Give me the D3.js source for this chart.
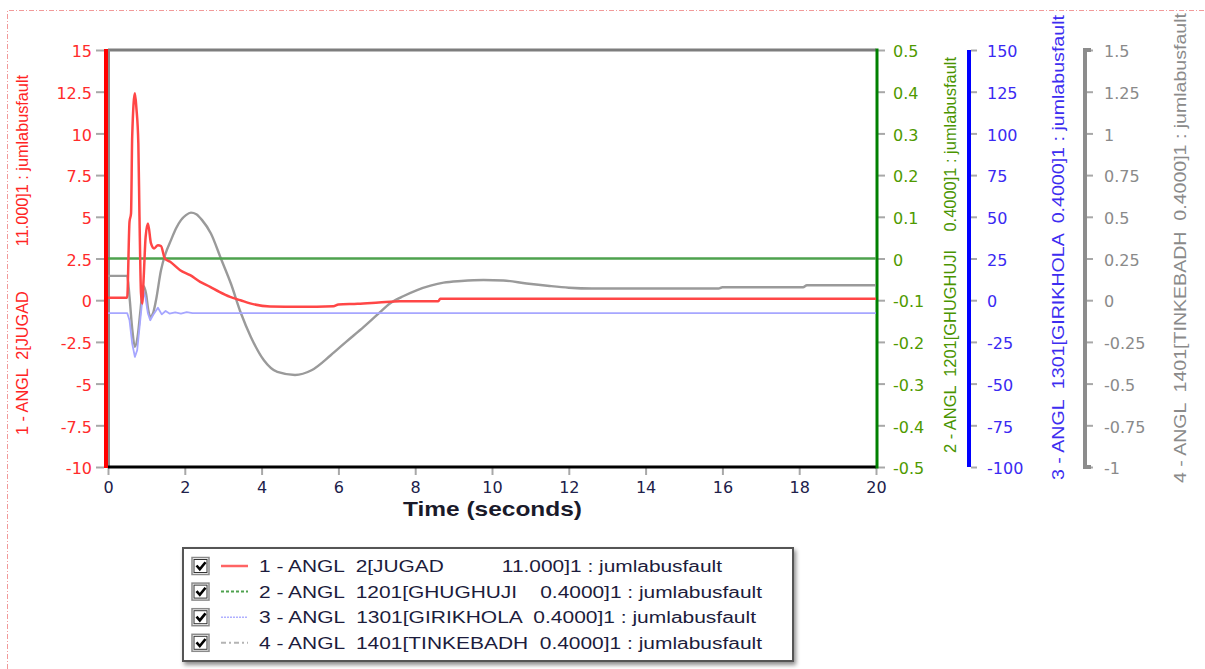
<!DOCTYPE html>
<html>
<head>
<meta charset="utf-8">
<script src="https://cdn.jsdelivr.net/npm/d3@7"></script>
<style>
  html, body { margin: 0; padding: 0; background: #fff; }
  svg { display: block; }
  text { white-space: pre; }
</style>
</head>
<body>
<script>
// ---- Rotor angle traces (time in seconds) ----
const jugadTime  = [0, 0.5, 0.56, 0.6, 0.63, 0.7, 0.74, 0.79, 0.82, 0.86, 0.89, 0.93, 0.98, 1.04, 1.12, 1.2, 1.3, 1.38, 1.48, 1.62, 1.88, 2.14, 2.4, 2.66, 2.9, 3.18, 3.45, 3.7, 4.22, 5.0, 5.87, 6.0, 6.5, 7.05, 7.6, 8.6, 8.65, 20];
const jugadAngle = [0.15, 0.15, 4.7, 5.2, 9.8, 12.4, 11.5, 9.4, 5.0, 0.4, -0.2, 1.4, 3.8, 4.6, 3.4, 3.1, 3.3, 3.25, 2.5, 2.3, 1.8, 1.5, 1.1, 0.8, 0.5, 0.2, 0.0, -0.19, -0.38, -0.4, -0.36, -0.26, -0.22, -0.14, -0.06, -0.06, 0.08, 0.08];

const ghughujiTime  = [0, 5, 10, 15, 20];
const ghughujiAngle = [0, 0, 0, 0, 0];

const girikholaTime  = [0, 0.5, 0.56, 0.63, 0.7, 0.76, 0.84, 0.92, 0.98, 1.04, 1.1, 1.17, 1.3, 1.4, 1.5, 1.6, 1.75, 1.9, 2.05, 2.2, 20];
const girikholaAngle = [-7.7, -7.7, -12, -26, -34, -30, -12, 6, 1, -8, -12, -9, -4.5, -8.5, -6.5, -8, -7.3, -8, -7.2, -7.7, -7.7];

const tinkebadhTime  = [0, 0.5, 0.56, 0.63, 0.7, 0.77, 0.85, 0.92, 0.99, 1.05, 1.1, 1.17, 1.25, 1.38, 1.5, 1.64, 1.77, 1.9, 2.03, 2.16, 2.3, 2.45, 2.68, 2.94, 3.2, 3.46, 3.72, 4.06, 4.41, 4.87, 5.3, 5.8, 6.2, 6.66, 7.0, 7.36, 7.7, 8.05, 8.4, 8.74, 9.2, 9.78, 10.3, 10.9, 11.5, 12.0, 12.6, 15.9, 16.0, 18.1, 18.2, 20];
const tinkebadhAngle = [0.146, 0.146, 0.02, -0.17, -0.28, -0.22, -0.05, 0.085, 0.04, -0.06, -0.10, -0.08, 0.0, 0.18, 0.28, 0.36, 0.43, 0.48, 0.51, 0.525, 0.515, 0.48, 0.40, 0.25, 0.10, -0.077, -0.22, -0.36, -0.43, -0.448, -0.42, -0.33, -0.25, -0.16, -0.09, -0.017, 0.025, 0.061, 0.087, 0.105, 0.115, 0.121, 0.118, 0.10, 0.085, 0.075, 0.07, 0.07, 0.078, 0.078, 0.09, 0.09];

// ---- Series labels (legend rows and axis titles) ----
const seriesLabels = [
  "1 - ANGL  2[JUGAD          11.000]1 : jumlabusfault",
  "2 - ANGL  1201[GHUGHUJI    0.4000]1 : jumlabusfault",
  "3 - ANGL  1301[GIRIKHOLA  0.4000]1 : jumlabusfault",
  "4 - ANGL  1401[TINKEBADH  0.4000]1 : jumlabusfault"
];

// ---- Tick values ----
const timeTicks      = [0, 2, 4, 6, 8, 10, 12, 14, 16, 18, 20];
const jugadTicks     = [-10, -7.5, -5, -2.5, 0, 2.5, 5, 7.5, 10, 12.5, 15];
const ghughujiTicks  = [-0.5, -0.4, -0.3, -0.2, -0.1, 0, 0.1, 0.2, 0.3, 0.4, 0.5];
const girikholaTicks = [-100, -75, -50, -25, 0, 25, 50, 75, 100, 125, 150];
const tinkebadhTicks = [-1, -0.75, -0.5, -0.25, 0, 0.25, 0.5, 0.75, 1, 1.25, 1.5];

// ---- Layout ----
const W = 1205, H = 669;
const plot = { left: 108, right: 876, top: 50, bottom: 467 };

const svg = d3.select("body").append("svg")
  .attr("width", W).attr("height", H)
  .attr("viewBox", `0 0 ${W} ${H}`);

svg.append("rect").attr("width", W).attr("height", H).attr("fill", "#fff");

// dash-dot page frame
svg.append("path")
  .attr("d", `M7.5,${H} V10.5 H${W}`)
  .attr("fill", "none").attr("stroke", "#f29a9a").attr("stroke-width", 1)
  .attr("stroke-dasharray", "5,2,1,2");

const x = d3.scaleLinear().domain([0, 20]).range([plot.left, plot.right]);
const yJugad     = d3.scaleLinear().domain([-10, 15]).range([plot.bottom, plot.top]);
const yGhughuji  = d3.scaleLinear().domain([-0.5, 0.5]).range([plot.bottom, plot.top]);
const yGirikhola = d3.scaleLinear().domain([-100, 150]).range([plot.bottom, plot.top]);
const yTinkebadh = d3.scaleLinear().domain([-1, 1.5]).range([plot.bottom, plot.top]);

const fmt = d => String(d);
const tickFont = "'DejaVu Sans', Verdana, sans-serif";

function styleAxis(g, color, tickColor) {
  g.selectAll(".tick line").attr("stroke", tickColor).attr("stroke-width", 2);
  g.selectAll(".tick text")
    .attr("fill", color)
    .attr("font-family", tickFont)
    .attr("font-size", 16)
    .attr("dy", "0.42em");
}

// ---- plot frame ----
svg.append("line").attr("x1", plot.left).attr("x2", plot.right)
  .attr("y1", plot.top).attr("y2", plot.top)
  .attr("stroke", "#7d7d7d").attr("stroke-width", 3);
svg.append("line").attr("x1", plot.left + 1).attr("x2", plot.left + 1)
  .attr("y1", plot.top).attr("y2", plot.bottom)
  .attr("stroke", "#8a8a8a").attr("stroke-width", 2);

// ---- x axis ----
const gx = svg.append("g")
  .attr("transform", `translate(0,${plot.bottom})`)
  .call(d3.axisBottom(x).tickValues(timeTicks).tickFormat(fmt).tickSize(8).tickSizeOuter(0).tickPadding(7));
gx.select(".domain").remove();
gx.selectAll(".tick line").attr("stroke", "#a8a8a8").attr("stroke-width", 2);
gx.selectAll(".tick text").attr("fill", "#20204a").attr("font-family", tickFont).attr("font-size", 16);
svg.append("line").attr("x1", plot.left).attr("x2", plot.right)
  .attr("y1", plot.bottom).attr("y2", plot.bottom)
  .attr("stroke", "#000").attr("stroke-width", 3);

svg.append("text")
  .attr("x", (plot.left + plot.right) / 2 + 0.5).attr("y", 516)
  .attr("text-anchor", "middle")
  .attr("font-family", "'Liberation Sans', Arial, sans-serif")
  .attr("font-weight", "bold").attr("font-size", 21)
  .attr("textLength", 179).attr("lengthAdjust", "spacingAndGlyphs")
  .attr("fill", "#1a1a2a")
  .text("Time (seconds)");

// ---- red axis (left) ----
const gRed = svg.append("g").attr("transform", `translate(104,0)`)
  .call(d3.axisLeft(yJugad).tickValues(jugadTicks).tickFormat(fmt).tickSize(8).tickSizeOuter(0).tickPadding(4));
gRed.select(".domain").remove();
styleAxis(gRed, "#ff2b2b", "#a8a8a8");
svg.append("rect").attr("x", 104).attr("y", plot.top - 1).attr("width", 4)
  .attr("height", plot.bottom - plot.top + 2).attr("fill", "#ff0000");

// ---- green axis (right edge of plot) ----
const gGreen = svg.append("g").attr("transform", `translate(${plot.right + 1},0)`)
  .call(d3.axisRight(yGhughuji).tickValues(ghughujiTicks).tickFormat(fmt).tickSize(8).tickSizeOuter(0).tickPadding(8));
gGreen.select(".domain").remove();
styleAxis(gGreen, "#4f9a00", "#a8a8a8");
svg.append("rect").attr("x", plot.right - 0.5).attr("y", plot.top - 1.5).attr("width", 3)
  .attr("height", plot.bottom - plot.top + 3).attr("fill", "#008000");

// ---- blue axis ----
const gBlue = svg.append("g").attr("transform", `translate(971,0)`)
  .call(d3.axisRight(yGirikhola).tickValues(girikholaTicks).tickFormat(fmt).tickSize(6).tickSizeOuter(0).tickPadding(10));
gBlue.select(".domain").remove();
styleAxis(gBlue, "#3a2af2", "#a8a8a8");
svg.append("rect").attr("x", 967).attr("y", plot.top).attr("width", 4)
  .attr("height", plot.bottom - plot.top).attr("fill", "#0000ff");

// ---- gray axis ----
const gGray = svg.append("g").attr("transform", `translate(1087,0)`)
  .call(d3.axisRight(yTinkebadh).tickValues(tinkebadhTicks).tickFormat(fmt).tickSize(6).tickSizeOuter(0).tickPadding(11));
gGray.select(".domain").remove();
styleAxis(gGray, "#8a8a8a", "#a8a8a8");
svg.append("path")
  .attr("d", `M1091,${plot.top} H1085 V${plot.bottom} H1091`)
  .attr("fill", "none").attr("stroke", "#8c8c8c").attr("stroke-width", 4);

// ---- axis titles ----
const titleSpecs = [
  { label: seriesLabels[0], x: 28,   y: 255,   len: 360, color: "#ff2424" },
  { label: seriesLabels[1], x: 956,  y: 255,   len: 396, color: "#4a9400" },
  { label: seriesLabels[2], x: 1064, y: 247.5, len: 465, color: "#3d2df0" },
  { label: seriesLabels[3], x: 1186, y: 248,   len: 470, color: "#8a8a8a" }
];
titleSpecs.forEach(s => {
  svg.append("text")
    .attr("transform", `translate(${s.x},${s.y}) rotate(-90)`)
    .attr("text-anchor", "middle")
    .attr("xml:space", "preserve")
    .attr("font-family", "'Liberation Sans', Arial, sans-serif")
    .attr("font-size", 16)
    .attr("textLength", s.len).attr("lengthAdjust", "spacingAndGlyphs")
    .attr("fill", s.color)
    .text(s.label);
});

// ---- series lines ----
svg.append("clipPath").attr("id", "plot-clip")
  .append("rect").attr("x", plot.left).attr("y", plot.top)
  .attr("width", plot.right - plot.left).attr("height", plot.bottom - plot.top);

const lines = svg.append("g").attr("clip-path", "url(#plot-clip)");

function drawSeries(times, values, yScale, color, width, curve) {
  const pts = times.map((t, i) => [t, values[i]]);
  lines.append("path")
    .datum(pts)
    .attr("fill", "none")
    .attr("stroke", color)
    .attr("stroke-width", width)
    .attr("stroke-linejoin", "round")
    .attr("d", d3.line().curve(curve).x(d => x(d[0])).y(d => yScale(d[1])));
}

drawSeries(tinkebadhTime, tinkebadhAngle, yTinkebadh, "#9a9a9a", 2.4, d3.curveMonotoneX);
drawSeries(girikholaTime, girikholaAngle, yGirikhola, "#a6a6ff", 1.8, d3.curveLinear);
drawSeries(ghughujiTime, ghughujiAngle, yGhughuji, "#4ea24e", 2.5, d3.curveLinear);
drawSeries(jugadTime, jugadAngle, yJugad, "#ff4646", 2.5, d3.curveMonotoneX);

// ---- legend ----
const defs = svg.append("defs");
const shadow = defs.append("filter").attr("id", "legend-shadow")
  .attr("x", "-5%").attr("y", "-10%").attr("width", "115%").attr("height", "130%");
shadow.append("feDropShadow").attr("dx", 2).attr("dy", 3).attr("stdDeviation", 2)
  .attr("flood-color", "#000").attr("flood-opacity", 0.45);

const legend = svg.append("g");
legend.append("rect")
  .attr("x", 183).attr("y", 548).attr("width", 610).attr("height", 113)
  .attr("fill", "#fff").attr("stroke", "#555").attr("stroke-width", 2)
  .attr("filter", "url(#legend-shadow)");

const legendStyles = [
  { color: "#ff6464", dash: null,       width: 2.5 },
  { color: "#4ea24e", dash: "3,2",      width: 2 },
  { color: "#b0b0ff", dash: "2,1",      width: 1.5 },
  { color: "#b4b4b4", dash: "5,3,2,3",  width: 2 }
];
const legendLengths = [463, 503, 497, 503];

seriesLabels.forEach((label, i) => {
  const cy = 566 + i * 25.6;
  const row = legend.append("g");
  row.append("rect").attr("x", 192).attr("y", cy - 8.5).attr("width", 17).attr("height", 17)
    .attr("fill", "#fff").attr("stroke", "#8a8a8a").attr("stroke-width", 1.5);
  row.append("rect").attr("x", 194).attr("y", cy - 6.5).attr("width", 13).attr("height", 13)
    .attr("fill", "none").attr("stroke", "#333").attr("stroke-width", 1);
  row.append("path")
    .attr("d", `M196.5,${cy - 0.5} L199.8,${cy + 3.2} L205.5,${cy - 3.8}`)
    .attr("fill", "none").attr("stroke", "#000").attr("stroke-width", 2.6);
  const st = legendStyles[i];
  row.append("line").attr("x1", 221).attr("x2", 248).attr("y1", cy).attr("y2", cy)
    .attr("stroke", st.color).attr("stroke-width", st.width)
    .attr("stroke-dasharray", st.dash);
  row.append("text")
    .attr("x", 259).attr("y", cy + 6)
    .attr("xml:space", "preserve")
    .attr("font-family", "'Liberation Sans', Arial, sans-serif")
    .attr("font-size", 16)
    .attr("textLength", legendLengths[i]).attr("lengthAdjust", "spacingAndGlyphs")
    .attr("fill", "#1c1c3c")
    .text(label);
});
</script>
</body>
</html>
